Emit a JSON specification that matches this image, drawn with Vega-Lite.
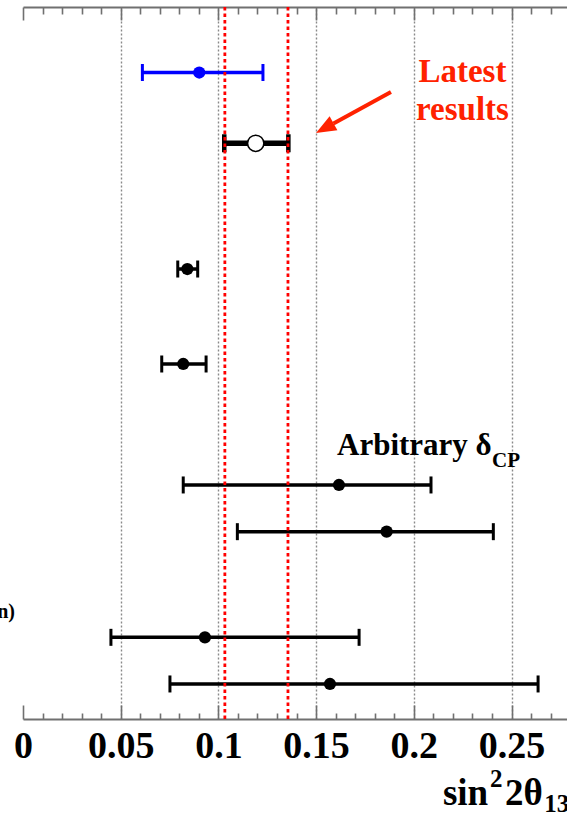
{
  "$schema": "https://vega.github.io/schema/vega-lite/v6.json",
  "width": 544,
  "height": 712,
  "autosize": {"type": "none"},
  "padding": {"left": 23, "top": 7, "right": 0, "bottom": 94},
  "config": {
    "view": {"stroke": null},
    "text": {"font": "Liberation Serif", "fontWeight": "bold"},
    "tick": {"opacity": 1}
  },
  "datasets": {
    "blue": [{"row": 0.92, "lo": 0.0611, "mid": 0.0902, "hi": 0.1228}],
    "open": [{"row": 1.914, "lo": 0.1030, "mid": 0.1191, "hi": 0.1358}],
    "black": [
      {"row": 3.68, "lo": 0.0792, "mid": 0.0841, "hi": 0.0894},
      {"row": 5.014, "lo": 0.0710, "mid": 0.0820, "hi": 0.0937},
      {"row": 6.713, "lo": 0.0820, "mid": 0.1617, "hi": 0.2088},
      {"row": 7.369, "lo": 0.1097, "mid": 0.1861, "hi": 0.2407},
      {"row": 8.853, "lo": 0.0450, "mid": 0.0931, "hi": 0.1720},
      {"row": 9.508, "lo": 0.0752, "mid": 0.1571, "hi": 0.2636}
    ],
    "band": [{"x": 0.1033}, {"x": 0.1356}],
    "latest": [
      {"x": 0.2249, "y": 1.049, "t": "Latest"},
      {"x": 0.2249, "y": 1.587, "t": "results"}
    ],
    "arrowLine": [{"x": 0.1883, "y": 1.194, "x2": 0.1589, "y2": 1.635}],
    "arrowHead": [{"x": 0.14995, "y": 1.770}],
    "arb": [{"x": 0.1607, "y": 6.292, "t": "Arbitrary δ"}],
    "cp": [{"x": 0.2400, "y": 6.456, "t": "CP"}],
    "titleMain": [
      {"x": 0.2149, "y": 11.208, "t": "sin"},
      {"x": 0.2467, "y": 11.208, "t": "2θ"}
    ],
    "titleSmall": [
      {"x": 0.2390, "y": 10.955, "t": "2"},
      {"x": 0.2668, "y": 11.31, "t": "13"}
    ],
    "side": [{"x": -0.0041, "y": 8.493, "t": "n)"}]
  },
  "layer": [
    {
      "data": {"name": "black"},
      "mark": {"type": "rule", "color": "black", "strokeWidth": 3.5},
      "encoding": {
        "x": {
          "field": "lo", "type": "quantitative",
          "scale": {"domain": [0, 0.2784], "nice": false, "zero": false},
          "axis": {
            "orient": "bottom",
            "title": null,
            "values": [0, 0.01, 0.02, 0.03, 0.04, 0.05, 0.06, 0.07, 0.08, 0.09, 0.1, 0.11, 0.12, 0.13, 0.14, 0.15, 0.16, 0.17, 0.18, 0.19, 0.2, 0.21, 0.22, 0.23, 0.24, 0.25, 0.26, 0.27],
            "domainColor": "#707070", "domainWidth": 2,
            "tickColor": "#707070", "tickWidth": 1.6,
            "tickSize": {"condition": {"test": "abs(datum.value*20 - round(datum.value*20)) < 0.001", "value": -14}, "value": -6},
            "grid": true,
            "gridColor": "#8a8a8a", "gridWidth": 1.4, "gridDash": [2, 2],
            "gridOpacity": {"condition": {"test": "abs(datum.value*20 - round(datum.value*20)) < 0.001 && datum.value > 0.001", "value": 1}, "value": 0},
            "labelExpr": "abs(datum.value*20 - round(datum.value*20)) < 0.001 ? toString(round(datum.value*100)/100) : ''",
            "labelFlush": false, "labelOverlap": false, "labelBound": false,
            "labelFont": "Liberation Serif", "labelFontWeight": "bold", "labelFontSize": 38,
            "labelColor": "black", "labelPadding": 22, "labelBaseline": "top"
          }
        },
        "x2": {"field": "hi"},
        "y": {
          "field": "row", "type": "quantitative",
          "scale": {"domain": [0, 10], "reverse": true, "nice": false, "zero": false},
          "axis": {"title": null, "ticks": false, "labels": false, "grid": false, "domainColor": "#707070", "domainWidth": 2}
        }
      }
    },
    {
      "data": {"name": "black"},
      "mark": {"type": "tick", "orient": "vertical", "color": "black", "thickness": 3, "size": 17},
      "encoding": {"x": {"field": "lo", "type": "quantitative", "axis": null}, "y": {"field": "row", "type": "quantitative", "axis": null}}
    },
    {
      "data": {"name": "black"},
      "mark": {"type": "tick", "orient": "vertical", "color": "black", "thickness": 3, "size": 17},
      "encoding": {"x": {"field": "hi", "type": "quantitative", "axis": null}, "y": {"field": "row", "type": "quantitative", "axis": null}}
    },
    {
      "data": {"name": "black"},
      "mark": {"type": "circle", "color": "black", "opacity": 1, "size": 150},
      "encoding": {"x": {"field": "mid", "type": "quantitative", "axis": null}, "y": {"field": "row", "type": "quantitative", "axis": null}}
    },
    {
      "data": {"name": "blue"},
      "mark": {"type": "rule", "color": "#0000ff", "strokeWidth": 3.5},
      "encoding": {"x": {"field": "lo", "type": "quantitative", "axis": null}, "x2": {"field": "hi"}, "y": {"field": "row", "type": "quantitative", "axis": null}}
    },
    {
      "data": {"name": "blue"},
      "mark": {"type": "tick", "orient": "vertical", "color": "#0000ff", "thickness": 3, "size": 17},
      "encoding": {"x": {"field": "lo", "type": "quantitative", "axis": null}, "y": {"field": "row", "type": "quantitative", "axis": null}}
    },
    {
      "data": {"name": "blue"},
      "mark": {"type": "tick", "orient": "vertical", "color": "#0000ff", "thickness": 3, "size": 17},
      "encoding": {"x": {"field": "hi", "type": "quantitative", "axis": null}, "y": {"field": "row", "type": "quantitative", "axis": null}}
    },
    {
      "data": {"name": "blue"},
      "mark": {"type": "circle", "color": "#0000ff", "opacity": 1, "size": 150},
      "encoding": {"x": {"field": "mid", "type": "quantitative", "axis": null}, "y": {"field": "row", "type": "quantitative", "axis": null}}
    },
    {
      "data": {"name": "open"},
      "mark": {"type": "rule", "color": "black", "strokeWidth": 5.5},
      "encoding": {"x": {"field": "lo", "type": "quantitative", "axis": null}, "x2": {"field": "hi"}, "y": {"field": "row", "type": "quantitative", "axis": null}}
    },
    {
      "data": {"name": "open"},
      "mark": {"type": "tick", "orient": "vertical", "color": "black", "thickness": 4.5, "size": 18},
      "encoding": {"x": {"field": "lo", "type": "quantitative", "axis": null}, "y": {"field": "row", "type": "quantitative", "axis": null}}
    },
    {
      "data": {"name": "open"},
      "mark": {"type": "tick", "orient": "vertical", "color": "black", "thickness": 4.5, "size": 18},
      "encoding": {"x": {"field": "hi", "type": "quantitative", "axis": null}, "y": {"field": "row", "type": "quantitative", "axis": null}}
    },
    {
      "data": {"name": "open"},
      "mark": {"type": "circle", "fill": "white", "stroke": "black", "strokeWidth": 1.5, "opacity": 1, "size": 265},
      "encoding": {"x": {"field": "mid", "type": "quantitative", "axis": null}, "y": {"field": "row", "type": "quantitative", "axis": null}}
    },
    {
      "data": {"name": "band"},
      "mark": {"type": "rule", "color": "#ff0000", "strokeWidth": 2.8, "strokeDash": [3.5, 3]},
      "encoding": {
        "x": {
          "field": "x", "type": "quantitative",
          "axis": {
            "orient": "top",
            "title": null,
            "labels": false,
            "grid": false,
            "values": [0, 0.01, 0.02, 0.03, 0.04, 0.05, 0.06, 0.07, 0.08, 0.09, 0.1, 0.11, 0.12, 0.13, 0.14, 0.15, 0.16, 0.17, 0.18, 0.19, 0.2, 0.21, 0.22, 0.23, 0.24, 0.25, 0.26, 0.27],
            "domainColor": "#707070", "domainWidth": 2,
            "tickColor": "#707070", "tickWidth": 1.6,
            "tickSize": {"condition": {"test": "abs(datum.value*20 - round(datum.value*20)) < 0.001", "value": -13}, "value": -7}
          }
        }
      }
    },
    {
      "data": {"name": "arrowLine"},
      "mark": {"type": "rule", "color": "#ff2200", "strokeWidth": 4, "strokeCap": "butt"},
      "encoding": {
        "x": {"field": "x", "type": "quantitative", "axis": null},
        "y": {"field": "y", "type": "quantitative", "axis": null},
        "x2": {"field": "x2"},
        "y2": {"field": "y2"}
      }
    },
    {
      "data": {"name": "arrowHead"},
      "mark": {"type": "point", "shape": "M0,0L-0.8,2L0.8,2Z", "size": 400, "angle": 241, "filled": true, "color": "#ff2200", "opacity": 1},
      "encoding": {"x": {"field": "x", "type": "quantitative", "axis": null}, "y": {"field": "y", "type": "quantitative", "axis": null}}
    },
    {
      "data": {"name": "latest"},
      "mark": {"type": "text", "color": "#ff2200", "fontSize": 33, "align": "center", "baseline": "alphabetic"},
      "encoding": {"x": {"field": "x", "type": "quantitative", "axis": null}, "y": {"field": "y", "type": "quantitative", "axis": null}, "text": {"field": "t"}}
    },
    {
      "data": {"name": "arb"},
      "mark": {"type": "text", "color": "black", "fontSize": 31, "align": "left", "baseline": "alphabetic"},
      "encoding": {"x": {"field": "x", "type": "quantitative", "axis": null}, "y": {"field": "y", "type": "quantitative", "axis": null}, "text": {"field": "t"}}
    },
    {
      "data": {"name": "cp"},
      "mark": {"type": "text", "color": "black", "fontSize": 21, "align": "left", "baseline": "alphabetic"},
      "encoding": {"x": {"field": "x", "type": "quantitative", "axis": null}, "y": {"field": "y", "type": "quantitative", "axis": null}, "text": {"field": "t"}}
    },
    {
      "data": {"name": "titleMain"},
      "mark": {"type": "text", "color": "black", "fontSize": 37, "align": "left", "baseline": "alphabetic"},
      "encoding": {"x": {"field": "x", "type": "quantitative", "axis": null}, "y": {"field": "y", "type": "quantitative", "axis": null}, "text": {"field": "t"}}
    },
    {
      "data": {"name": "titleSmall"},
      "mark": {"type": "text", "color": "black", "fontSize": 25, "align": "left", "baseline": "alphabetic"},
      "encoding": {"x": {"field": "x", "type": "quantitative", "axis": null}, "y": {"field": "y", "type": "quantitative", "axis": null}, "text": {"field": "t"}}
    },
    {
      "data": {"name": "side"},
      "mark": {"type": "text", "color": "black", "fontSize": 20, "align": "right", "baseline": "middle"},
      "encoding": {"x": {"field": "x", "type": "quantitative", "axis": null}, "y": {"field": "y", "type": "quantitative", "axis": null}, "text": {"field": "t"}}
    }
  ],
  "resolve": {"axis": {"x": "independent"}}
}
